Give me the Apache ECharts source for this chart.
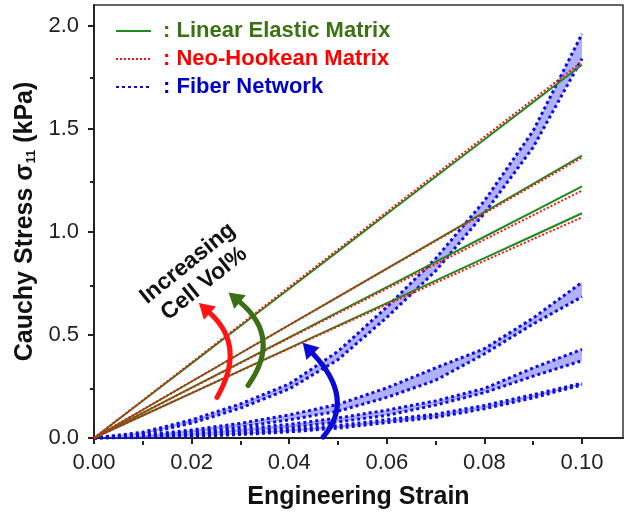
<!DOCTYPE html>
<html>
<head>
<meta charset="utf-8">
<script src="https://cdn.jsdelivr.net/npm/echarts@6/dist/echarts.min.js"></script>
<style>
  html, body { margin: 0; padding: 0; background: #fff; }
  #chart { width: 633px; height: 515px; }
</style>
</head>
<body>
<div id="chart"></div>
<script>
// Engineering strain sample points shared by every curve
const strain = [0, 0.01, 0.02, 0.03, 0.04, 0.05, 0.06, 0.07, 0.08, 0.09, 0.10];

// Axis ticks
const xTicks = [0, 0.02, 0.04, 0.06, 0.08, 0.10];
const xMinorTicks = [0.01, 0.03, 0.05, 0.07, 0.09];
const yTicks = [0, 0.5, 1.0, 1.5, 2.0];
const yMinorTicks = [0.25, 0.75, 1.25, 1.75];

// Linear elastic matrix (kPa), one curve per cell volume fraction
const linear1 = [0, 0.181, 0.362, 0.543, 0.724, 0.905, 1.086, 1.267, 1.448, 1.629, 1.81];
const linear2 = [0, 0.137, 0.274, 0.411, 0.548, 0.685, 0.822, 0.959, 1.096, 1.233, 1.37];
const linear3 = [0, 0.122, 0.244, 0.366, 0.488, 0.61, 0.732, 0.854, 0.976, 1.098, 1.22];
const linear4 = [0, 0.109, 0.218, 0.327, 0.436, 0.545, 0.654, 0.763, 0.872, 0.981, 1.09];

// Neo-Hookean matrix (kPa)
const neo1 = [0, 0.183, 0.366, 0.549, 0.732, 0.914, 1.096, 1.278, 1.46, 1.642, 1.825];
const neo2 = [0, 0.137, 0.274, 0.411, 0.548, 0.684, 0.82, 0.956, 1.09, 1.225, 1.36];
const neo3 = [0, 0.122, 0.243, 0.364, 0.485, 0.605, 0.724, 0.843, 0.962, 1.081, 1.2];
const neo4 = [0, 0.109, 0.218, 0.326, 0.434, 0.541, 0.647, 0.753, 0.859, 0.965, 1.07];

// Fiber network: lower / upper bound of each spread (kPa)
const fiber1Lo = [0, 0.018, 0.072, 0.145, 0.238, 0.38, 0.585, 0.81, 1.09, 1.41, 1.84];
const fiber1Hi = [0, 0.028, 0.088, 0.165, 0.262, 0.42, 0.635, 0.87, 1.15, 1.49, 1.96];
const fiber2Lo = [0, 0.007, 0.027, 0.054, 0.088, 0.13, 0.197, 0.28, 0.408, 0.553, 0.685];
const fiber2Hi = [0, 0.013, 0.039, 0.071, 0.112, 0.163, 0.243, 0.34, 0.433, 0.582, 0.755];
const fiber3Lo = [0, 0.004, 0.014, 0.03, 0.05, 0.078, 0.11, 0.16, 0.22, 0.3, 0.375];
const fiber3Hi = [0, 0.01, 0.024, 0.044, 0.066, 0.097, 0.135, 0.18, 0.24, 0.34, 0.43];
const fiber4Lo = [0, 0.002, 0.008, 0.017, 0.03, 0.048, 0.075, 0.1, 0.142, 0.195, 0.258];
const fiber4Hi = [0, 0.006, 0.015, 0.026, 0.041, 0.06, 0.089, 0.115, 0.158, 0.21, 0.266];

const GREEN = '#1e8a1e';
const RED = '#ff1010';
const BLUE = '#0a0aee';
const BAND_FILL = 'rgba(80, 80, 255, 0.45)';
const FONT = '"Liberation Sans", Arial, sans-serif';

const pairs = ys => strain.map((x, i) => [x, ys[i]]);

const series = [];
const fiberBands = [[fiber1Lo, fiber1Hi], [fiber2Lo, fiber2Hi], [fiber3Lo, fiber3Hi], [fiber4Lo, fiber4Hi]];

// Shaded spread of each fiber curve: one polygon between lower and upper bound
fiberBands.forEach(([lo, hi]) => {
  series.push({
    name: 'Fiber spread', type: 'custom', silent: true, z: 1,
    data: strain.map((x, i) => [x, lo[i], hi[i]]),
    encode: { x: 0, y: [1, 2] },
    renderItem: (params, api) => {
      if (params.dataIndexInside !== 0) return null;
      const n = params.dataInsideLength;
      const upper = [], lower = [];
      for (let i = 0; i < n; i++) {
        upper.push(api.coord([api.value(0, i), api.value(2, i)]));
        lower.push(api.coord([api.value(0, i), api.value(1, i)]));
      }
      return {
        type: 'polygon',
        shape: { points: upper.concat(lower.reverse()) },
        style: { fill: BAND_FILL }
      };
    }
  });
});

// Dotted bound lines of the fiber curves
fiberBands.forEach(([lo, hi]) => {
  [lo, hi].forEach(ys => {
    series.push({
      name: 'Fiber Network', type: 'line', symbol: 'none', silent: true, z: 2,
      data: pairs(ys),
      lineStyle: { color: BLUE, width: 3, type: [3, 3] },
      itemStyle: { color: BLUE }
    });
  });
});

[linear1, linear2, linear3, linear4].forEach(ys => {
  series.push({
    name: 'Linear Elastic Matrix', type: 'line', symbol: 'none', silent: true, z: 3,
    data: pairs(ys),
    lineStyle: { color: GREEN, width: 2 },
    itemStyle: { color: GREEN }
  });
});

[neo1, neo2, neo3, neo4].forEach(ys => {
  series.push({
    name: 'Neo-Hookean Matrix', type: 'line', symbol: 'none', silent: true, z: 4,
    data: pairs(ys),
    lineStyle: { color: RED, width: 2, type: [2, 2] },
    itemStyle: { color: RED }
  });
});

const gridBox = { left: 94, right: 10, top: 5, bottom: 74 };
const X_MAX = 0.1084;
const Y_MAX = 2.1;

const chart = echarts.init(document.getElementById('chart'), null, { renderer: 'canvas' });

chart.setOption({
  animation: false,
  backgroundColor: '#fff',
  textStyle: { fontFamily: FONT },
  grid: [
    Object.assign({ show: true, borderColor: '#333', borderWidth: 1.5, containLabel: false }, gridBox),
    Object.assign({ show: false, containLabel: false }, gridBox)
  ],
  legend: {
    orient: 'vertical',
    left: 110,
    top: 12,
    itemWidth: 35,
    itemHeight: 14,
    itemGap: 0,
    selectedMode: false,
    itemStyle: { opacity: 0 },
    formatter: name => ': ' + name,
    textStyle: { fontSize: 22, fontWeight: 'bold', fontFamily: FONT, lineHeight: 28, padding: [0, 0, 0, 7] },
    data: [
      { name: 'Linear Elastic Matrix', textStyle: { color: '#3d7212' } },
      { name: 'Neo-Hookean Matrix', textStyle: { color: '#ff0000' } },
      { name: 'Fiber Network', textStyle: { color: '#0000cc' } }
    ]
  },
  xAxis: [
    {
      type: 'value', gridIndex: 0, min: 0, max: X_MAX,
      name: 'Engineering Strain', nameLocation: 'middle', nameGap: 47,
      nameTextStyle: { fontSize: 25, fontWeight: 'bold', color: '#111', fontFamily: FONT },
      axisLine: { show: true, lineStyle: { color: '#222', width: 2 } },
      axisTick: { show: true, inside: false, length: 6, lineStyle: { color: '#222', width: 2 }, customValues: xTicks },
      axisLabel: { show: true, fontSize: 22, color: '#222', margin: 14, fontFamily: FONT, customValues: xTicks,
                   formatter: v => v.toFixed(2) },
      splitLine: { show: false }
    },
    {
      type: 'value', gridIndex: 1, min: 0, max: X_MAX,
      axisLine: { show: false },
      axisTick: { show: true, inside: false, length: 4, lineStyle: { color: '#222', width: 2 }, customValues: xMinorTicks },
      axisLabel: { show: false },
      splitLine: { show: false }
    }
  ],
  yAxis: [
    {
      type: 'value', gridIndex: 0, min: 0, max: Y_MAX,
      name: 'Cauchy Stress σ{sub|11} (kPa)', nameLocation: 'middle', nameGap: 50, nameRotate: 90,
      nameTextStyle: {
        fontSize: 25, fontWeight: 'bold', color: '#111', fontFamily: FONT,
        rich: { sub: { fontSize: 13, fontWeight: 'bold', color: '#111', fontFamily: FONT, verticalAlign: 'bottom', padding: [12, 0, 0, 0] } }
      },
      axisLine: { show: true, lineStyle: { color: '#222', width: 2 } },
      axisTick: { show: true, inside: false, length: 6, lineStyle: { color: '#222', width: 2 }, customValues: yTicks },
      axisLabel: { show: true, fontSize: 22, color: '#222', margin: 15, fontFamily: FONT, customValues: yTicks,
                   formatter: v => v.toFixed(1) },
      splitLine: { show: false }
    },
    {
      type: 'value', gridIndex: 1, min: 0, max: Y_MAX,
      axisLine: { show: false },
      axisTick: { show: true, inside: false, length: 4, lineStyle: { color: '#222', width: 2 }, customValues: yMinorTicks },
      axisLabel: { show: false },
      splitLine: { show: false }
    }
  ],
  series: series.map(s => Object.assign({ xAxisIndex: 0, yAxisIndex: 0 }, s))
});

// Curved arrows and the annotation, positioned in data space
const toPx = p => chart.convertToPixel({ gridIndex: 0 }, p);

function curvedArrow(tail, ctrl, end, color) {
  const a = toPx(tail), c = toPx(ctrl), b = toPx(end);
  let dx = b[0] - c[0], dy = b[1] - c[1];
  const len = Math.hypot(dx, dy);
  dx /= len; dy /= len;
  const headLen = 15, headHalf = 9;
  const tip = [b[0] + dx * headLen, b[1] + dy * headLen];
  const nx = -dy, ny = dx;
  return [
    {
      type: 'bezierCurve', z: 50, silent: true,
      shape: { x1: a[0], y1: a[1], cpx1: c[0], cpy1: c[1], x2: b[0], y2: b[1] },
      style: { stroke: color, lineWidth: 5, fill: null, lineCap: 'round' }
    },
    {
      type: 'polygon', z: 51, silent: true,
      shape: { points: [tip, [b[0] + nx * headHalf, b[1] + ny * headHalf], [b[0] - nx * headHalf, b[1] - ny * headHalf]] },
      style: { fill: color }
    }
  ];
}

const labelPos = toPx([0.0209, 0.798]);

chart.setOption({
  graphic: [
    ...curvedArrow([0.0252, 0.197], [0.03125, 0.4447], [0.02377, 0.6058], '#ff1414'),
    ...curvedArrow([0.03156, 0.2548], [0.03852, 0.4856], [0.02992, 0.6587], '#3c6e14'),
    ...curvedArrow([0.04693, 0.0048], [0.05369, 0.1875], [0.04488, 0.4087], '#0a0ad2'),
    {
      type: 'text', z: 60, silent: true,
      x: labelPos[0], y: labelPos[1],
      rotation: 39 * Math.PI / 180,
      style: {
        text: 'Increasing\nCell Vol%',
        font: 'bold 23px ' + FONT,
        fill: '#111',
        align: 'center',
        verticalAlign: 'middle',
        lineHeight: 26
      }
    }
  ]
});
</script>
</body>
</html>
